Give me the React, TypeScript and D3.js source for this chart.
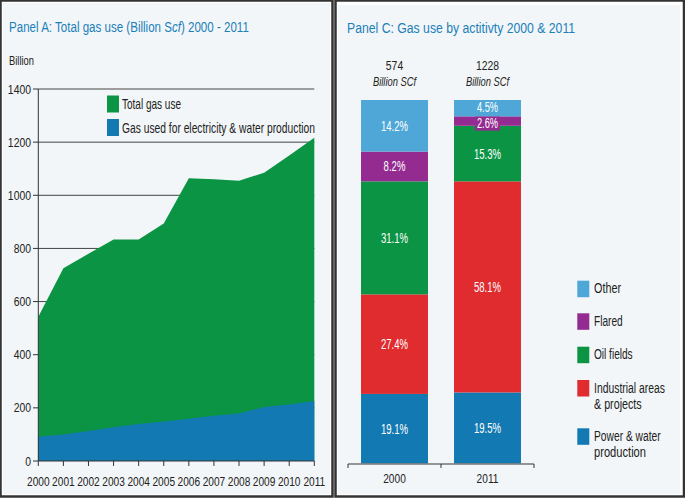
import React, { useLayoutEffect, useRef, useState } from "react";
import * as d3 from "d3";

const years = [2000, 2001, 2002, 2003, 2004, 2005, 2006, 2007, 2008, 2009, 2010, 2011];
const totalGas = [543, 725, 780, 834, 834, 894, 1064, 1060, 1055, 1085, 1150, 1217];
const powerGas = [91, 100, 113, 127, 139, 149, 159, 170, 179, 203, 213, 226];
const yTicksA = [0, 200, 400, 600, 800, 1000, 1200, 1400];

const barYears = ["2000", "2011"];
const barTotals = ["574", "1228"];
const activities = ["Power & water production", "Industrial areas & projects", "Oil fields", "Flared", "Other"];
const share2000 = [19.1, 27.4, 31.1, 8.2, 14.2];
const share2011 = [19.5, 58.1, 15.3, 2.6, 4.5];
const actColors = ["#1379b2", "#e02b2f", "#0a9444", "#932b91", "#4ea7d6"];
const legendLines = [["Power & water", "production"], ["Industrial areas", "& projects"], ["Oil fields"], ["Flared"], ["Other"]];
const legendWidths = [[66.7, 52], [71, 47.7], [38.7], [28.7], [27]];

const FONT = "'Liberation Sans', Arial, sans-serif";
const BG = "#f2f6f8";
const TITLE = "#1c80b9";
const TXT = "#222";

function T(props: any) {
  const { x, y, sx = 0.8, children, ...rest } = props;
  return (
    <text transform={`translate(${x},${y}) scale(${sx},1)`} {...rest}>
      {children}
    </text>
  );
}

// Text squeezed horizontally to a target width (measured after mount)
function Fit(props: any) {
  const { x, y, w, children, ...rest } = props;
  const ref = useRef<SVGTextElement>(null);
  const [sx, setSx] = useState(0.75);
  useLayoutEffect(() => {
    if (ref.current) {
      const len = ref.current.getComputedTextLength();
      if (len > 0) setSx(w / len);
    }
  }, [w]);
  return (
    <text ref={ref} transform={`translate(${x},${y}) scale(${sx},1)`} {...rest}>
      {children}
    </text>
  );
}

export default function App() {
  const xA = d3.scaleLinear().domain([2000, 2011]).range([38.3, 314.3]);
  const yA = d3.scaleLinear().domain([0, 1400]).range([461, 89]);
  const areaGen = d3.area<number>().x((_, i) => xA(years[i])).y0(yA(0)).y1((d) => yA(d));

  const xC = d3.scaleBand<string>().domain(barYears).range([348, 534]).paddingInner(0.28).paddingOuter(0.14);
  const yC = d3.scaleLinear().domain([0, 100]).range([463.3, 100]);
  const shares = [share2000, share2011];
  const legendTop = [428.3, 380, 346.7, 313.3, 280.7];
  const midTick = (xC("2011") as number) - (xC.step() - xC.bandwidth()) / 2;

  return (
    <svg width={685} height={498} style={{ position: "absolute", left: 0, top: 0 }} fontFamily={FONT}>
      <rect x={0} y={0} width={685} height={498} fill="#fff" />
      <rect x={0.5} y={0.5} width={332} height={496} fill="#fff" stroke="#333" strokeWidth={2.5} />
      <rect x={3} y={3} width={327} height={491} fill={BG} />
      <rect x={335.5} y={0.5} width={348.5} height={496} fill="#fff" stroke="#333" strokeWidth={2.5} />
      <rect x={338} y={5} width={342} height={489} fill={BG} />

      {/* Panel A */}
      <Fit x={9} y={32} w={240} fontSize={15.5} fill={TITLE}>
        Panel A: Total gas use (Billion S<tspan fontStyle="italic">cf</tspan>) 2000 - 2011
      </Fit>
      <Fit x={9} y={65} w={25} fontSize={12.5} fill={TXT}>Billion</Fit>
      {yTicksA.filter((t) => t > 0).map((t) => (
        <line key={"g" + t} x1={xA(2000)} x2={xA(2011)} y1={yA(t)} y2={yA(t)} stroke="#444" strokeWidth={1} />
      ))}
      <path d={areaGen(totalGas) || ""} fill="#0a9444" />
      <path d={areaGen(powerGas) || ""} fill="#1379b2" />
      <line x1={xA(2000)} x2={xA(2000)} y1={yA(0)} y2={yA(1400)} stroke="#333" strokeWidth={1} />
      <line x1={xA(2000)} x2={xA(2011)} y1={yA(0)} y2={yA(0)} stroke="#333" strokeWidth={1} />
      {yTicksA.map((t) => (
        <g key={"yt" + t}>
          <line x1={33} x2={xA(2000)} y1={yA(t)} y2={yA(t)} stroke="#333" strokeWidth={1} />
          <T x={31} y={yA(t) + 4.5} textAnchor="end" fontSize={13} fill={TXT}>{t}</T>
        </g>
      ))}
      {years.map((yr) => (
        <g key={"xt" + yr}>
          <line x1={xA(yr)} x2={xA(yr)} y1={yA(0)} y2={yA(0) + 5} stroke="#333" strokeWidth={1} />
          <T x={xA(yr)} y={486} textAnchor="middle" fontSize={13} fill={TXT} sx={0.78}>{yr}</T>
        </g>
      ))}
      <rect x={107} y={95.5} width={12} height={17} fill="#0a9444" />
      <Fit x={122} y={109} w={59} fontSize={14} fill={TXT}>Total gas use</Fit>
      <rect x={107} y={119} width={12} height={17} fill="#1379b2" />
      <Fit x={122} y={132.5} w={193} fontSize={14} fill={TXT}>Gas used for electricity &amp; water production</Fit>

      {/* Panel C */}
      <Fit x={347} y={33} w={228} fontSize={15.5} fill={TITLE}>Panel C: Gas use by actitivty 2000 &amp; 2011</Fit>
      {barYears.map((yr, bi) => {
        const x0 = xC(yr) as number;
        const bw = xC.bandwidth();
        const cx = x0 + bw / 2;
        let cum = 0;
        const segs = shares[bi].map((v, si) => {
          const s = { v, si, y0: cum, y1: cum + v };
          cum += v;
          return s;
        });
        return (
          <g key={"bar" + yr}>
            <T x={cx} y={70} textAnchor="middle" fontSize={13} fill={TXT} sx={0.8}>{barTotals[bi]}</T>
            <T x={cx} y={86} textAnchor="middle" fontSize={13} fontStyle="italic" fill={TXT} sx={0.72}>Billion SCf</T>
            {segs.map((s) => (
              <rect key={"r" + s.si} x={x0} width={bw} y={yC(s.y1)} height={yC(s.y0) - yC(s.y1)} fill={actColors[s.si]} />
            ))}
            {segs.map((s) => {
              const top = yC(s.y1);
              const cy = (yC(s.y0) + top) / 2;
              const tiny = s.v < 3;
              const small = s.v < 5;
              const base = tiny ? top + 12 : small ? cy + 3.8 : cy + 5;
              return (
                <g key={"l" + s.si}>
                  {tiny && <rect x={cx - 12.5} y={top + 0.3} width={25} height={14} fill={actColors[s.si]} />}
                  <T x={cx} y={base} textAnchor="middle" fontSize={small ? 14 : 14.5} fill="#fff" sx={0.66}>{s.v.toFixed(1)}%</T>
                </g>
              );
            })}
          </g>
        );
      })}
      <line x1={348} x2={534} y1={464} y2={464} stroke="#333" strokeWidth={1} />
      {[348, midTick, 534].map((x, i) => (
        <line key={"ct" + i} x1={x} x2={x} y1={464} y2={468} stroke="#333" strokeWidth={1} />
      ))}
      {barYears.map((yr) => (
        <T key={"cl" + yr} x={(xC(yr) as number) + xC.bandwidth() / 2} y={483} textAnchor="middle" fontSize={13} fill={TXT} sx={0.78}>{yr}</T>
      ))}
      {activities.map((a, i) => (
        <g key={"lg" + i}>
          <rect x={577.3} y={legendTop[i]} width={12} height={16.5} fill={actColors[i]} />
          {legendLines[i].map((ln, li) => (
            <Fit key={li} x={594} y={legendTop[i] + 12.5 + li * 16.5} w={legendWidths[i][li]} fontSize={15} fill={TXT}>{ln}</Fit>
          ))}
        </g>
      ))}
    </svg>
  );
}
